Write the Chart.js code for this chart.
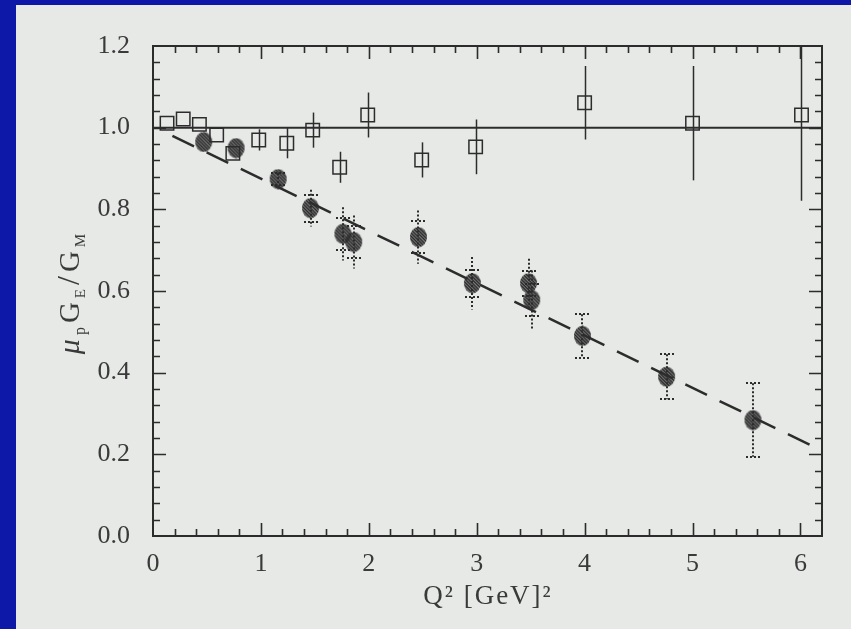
<!DOCTYPE html>
<html>
<head>
<meta charset="utf-8">
<script src="https://cdn.jsdelivr.net/npm/chart.js@4.4.0/dist/chart.umd.min.js"></script>
<style>
  html, body { margin: 0; padding: 0; background: #0e18a8; }
</style>
</head>
<body>
<canvas id="ratio-chart" width="851" height="629"></canvas>
<script>
// Rosenbluth separation points (open squares)
const rosX   = [0.13, 0.28, 0.43, 0.59, 0.74, 0.98, 1.24, 1.48, 1.73, 1.99, 2.49, 2.99, 4.00, 5.00, 6.01];
const rosY   = [1.011, 1.021, 1.008, 0.982, 0.937, 0.970, 0.962, 0.994, 0.903, 1.031, 0.921, 0.953, 1.061, 1.011, 1.031];
const rosErr = [0, 0, 0, 0, 0, 0.026, 0.037, 0.043, 0.038, 0.055, 0.043, 0.067, 0.090, 0.140, 0.210];

// recoil polarization points (hatched dots)
const polX    = [0.47, 0.77, 1.16, 1.46, 1.76, 1.86, 2.46, 2.96, 3.48, 3.51, 3.98, 4.76, 5.56];
const polY    = [0.965, 0.950, 0.874, 0.803, 0.740, 0.720, 0.732, 0.619, 0.619, 0.578, 0.490, 0.390, 0.284];
const polStat = [0, 0, 0.015, 0.033, 0.040, 0.040, 0.040, 0.033, 0.031, 0.040, 0.053, 0.055, 0.090];
const polTot  = [0, 0, 0.015, 0.045, 0.065, 0.065, 0.065, 0.064, 0.060, 0.072, 0.053, 0.055, 0.090];

// reference lines
const unityX = [0, 6.2];
const unityY = [1.0, 1.0];
const fitX   = [0.18, 6.2];
const fitY   = [0.980, 0.209];

// tick labels
const xTickLabels = ['0', '1', '2', '3', '4', '5', '6'];
const yTickLabels = ['0.0', '0.2', '0.4', '0.6', '0.8', '1.0', '1.2'];

const INK = '#2c2c2c';
const LABEL = '#3a3a3a';
const SERIF = '"Liberation Serif", "Times New Roman", serif';

function pts(xs, ys) {
  return xs.map((v, i) => ({ x: v, y: ys[i] }));
}

// small hatched disc used as point marker
function hatchedDot() {
  const c = document.createElement('canvas');
  c.width = 19; c.height = 21;
  const g = c.getContext('2d');
  g.beginPath();
  g.ellipse(9.5, 10.5, 8.5, 10, 0, 0, Math.PI * 2);
  g.fillStyle = 'rgba(60,60,60,0.25)';
  g.fill();
  g.clip();
  g.strokeStyle = INK;
  g.lineWidth = 1.8;
  g.beginPath();
  for (let k = -24; k < 40; k += 3.3) {
    g.moveTo(k, 0);
    g.lineTo(k + 21, 21);
  }
  g.stroke();
  return c;
}

const paper = {
  id: 'paper',
  beforeDraw(chart) {
    const ctx = chart.ctx;
    ctx.save();
    ctx.fillStyle = '#0e18a8';
    ctx.fillRect(0, 0, chart.width, chart.height);
    ctx.fillStyle = '#e6e9e6';
    ctx.fillRect(16, 5, chart.width - 16, chart.height - 5);
    ctx.restore();
  }
};

const errorBars = {
  id: 'errorBars',
  beforeDatasetsDraw(chart) {
    const { ctx, chartArea: a, scales: { x, y } } = chart;
    ctx.save();
    ctx.beginPath();
    ctx.rect(a.left, a.top, a.right - a.left, a.bottom - a.top);
    ctx.clip();
    ctx.strokeStyle = INK;

    // squares: plain solid bars
    ctx.lineWidth = 1.5;
    ctx.setLineDash([]);
    rosX.forEach((q, i) => {
      if (!rosErr[i]) return;
      const px = Math.round(x.getPixelForValue(q)) + 0.5;
      ctx.beginPath();
      ctx.moveTo(px, y.getPixelForValue(rosY[i] + rosErr[i]));
      ctx.lineTo(px, y.getPixelForValue(rosY[i] - rosErr[i]));
      ctx.stroke();
    });

    // dots: dotted bars, caps at the statistical error
    ctx.lineWidth = 2;
    ctx.setLineDash([2, 2]);
    polX.forEach((q, i) => {
      if (!polTot[i]) return;
      const px = Math.round(x.getPixelForValue(q));
      ctx.beginPath();
      ctx.moveTo(px, y.getPixelForValue(polY[i] + polTot[i]));
      ctx.lineTo(px, y.getPixelForValue(polY[i] - polTot[i]));
      [polY[i] + polStat[i], polY[i] - polStat[i]].forEach(v => {
        const py = Math.round(y.getPixelForValue(v));
        ctx.moveTo(px - 7, py);
        ctx.lineTo(px + 7, py);
      });
      ctx.stroke();
    });
    ctx.restore();
  }
};

const frame = {
  id: 'frame',
  afterDatasetsDraw(chart) {
    const { ctx, chartArea: a, scales: { x, y } } = chart;
    ctx.save();
    ctx.strokeStyle = INK;
    ctx.lineWidth = 2;
    ctx.strokeRect(a.left, a.top, a.right - a.left, a.bottom - a.top);

    // inward ticks on all four sides
    ctx.lineWidth = 1.6;
    ctx.beginPath();
    for (let i = 1; i < 31; i++) {
      const px = Math.round(x.getPixelForValue(i * 0.2)) + 0.5;
      const len = i % 5 === 0 ? 13 : 7;
      ctx.moveTo(px, a.bottom); ctx.lineTo(px, a.bottom - len);
      ctx.moveTo(px, a.top); ctx.lineTo(px, a.top + len);
    }
    for (let i = 1; i < 30; i++) {
      const py = Math.round(y.getPixelForValue(i * 0.04)) + 0.5;
      const len = i % 5 === 0 ? 13 : 7;
      ctx.moveTo(a.left, py); ctx.lineTo(a.left + len, py);
      ctx.moveTo(a.right, py); ctx.lineTo(a.right - len, py);
    }
    ctx.stroke();
    ctx.restore();
  }
};

const titles = {
  id: 'titles',
  afterDraw(chart) {
    const ctx = chart.ctx;
    ctx.save();
    ctx.fillStyle = LABEL;
    ctx.textBaseline = 'alphabetic';

    // x title
    ctx.font = '27px ' + SERIF;
    ctx.textAlign = 'center';
    ctx.letterSpacing = '2px';
    ctx.fillText('Q\u00b2 [GeV]\u00b2', 488, 604);
    ctx.letterSpacing = '0px';

    // y title, read bottom to top, with subscripts
    const parts = [
      { t: '\u03bc', f: 'italic 30px ' + SERIF, dy: 0 },
      { t: 'p', f: '16px ' + SERIF, dy: 6 },
      { t: 'G', f: '29px ' + SERIF, dy: 0 },
      { t: 'E', f: '15px ' + SERIF, dy: 6 },
      { t: '/', f: '32px ' + SERIF, dy: 0 },
      { t: 'G', f: '29px ' + SERIF, dy: 0 },
      { t: 'M', f: '15px ' + SERIF, dy: 6 }
    ];
    const gap = 4;
    let total = 0;
    parts.forEach(p => { ctx.font = p.f; p.w = ctx.measureText(p.t).width; total += p.w; });
    total += gap * (parts.length - 1);
    ctx.translate(79, 294);
    ctx.rotate(-Math.PI / 2);
    ctx.textAlign = 'left';
    let cx = -total / 2;
    parts.forEach(p => {
      ctx.font = p.f;
      ctx.fillText(p.t, cx, p.dy);
      cx += p.w + gap;
    });
    ctx.restore();
  }
};

new Chart(document.getElementById('ratio-chart'), {
  type: 'scatter',
  data: {
    datasets: [
      {
        label: 'unity',
        type: 'line',
        data: pts(unityX, unityY),
        borderColor: INK,
        borderWidth: 2,
        pointRadius: 0
      },
      {
        label: 'fit',
        type: 'line',
        data: pts(fitX, fitY),
        borderColor: INK,
        borderWidth: 2.5,
        borderDash: [24, 14],
        pointRadius: 0
      },
      {
        label: 'Rosenbluth',
        data: pts(rosX, rosY),
        pointStyle: 'rect',
        pointRadius: 9.5,
        borderColor: INK,
        borderWidth: 1.5,
        backgroundColor: 'rgba(0,0,0,0)'
      },
      {
        label: 'polarization',
        data: pts(polX, polY),
        pointStyle: hatchedDot(),
        pointRadius: 9
      }
    ]
  },
  options: {
    responsive: false,
    animation: false,
    layout: { padding: { top: 46, right: 29, left: 0, bottom: 0 } },
    plugins: {
      legend: { display: false },
      tooltip: { enabled: false }
    },
    scales: {
      x: {
        type: 'linear',
        min: 0,
        max: 6.2,
        afterFit(scale) { scale.height = 93; },
        grid: { display: false, drawTicks: false },
        border: { display: false },
        ticks: {
          stepSize: 1,
          includeBounds: false,
          padding: 13,
          color: LABEL,
          font: { family: SERIF, size: 26 },
          callback: v => xTickLabels[Math.round(v)] || ''
        }
      },
      y: {
        type: 'linear',
        min: 0,
        max: 1.2,
        afterFit(scale) { scale.width = 153; },
        grid: { display: false, drawTicks: false },
        border: { display: false },
        ticks: {
          stepSize: 0.2,
          padding: 23,
          color: LABEL,
          font: { family: SERIF, size: 26 },
          callback: v => yTickLabels[Math.round(v * 5)] || ''
        }
      }
    }
  },
  plugins: [paper, errorBars, frame, titles]
});
</script>
</body>
</html>
